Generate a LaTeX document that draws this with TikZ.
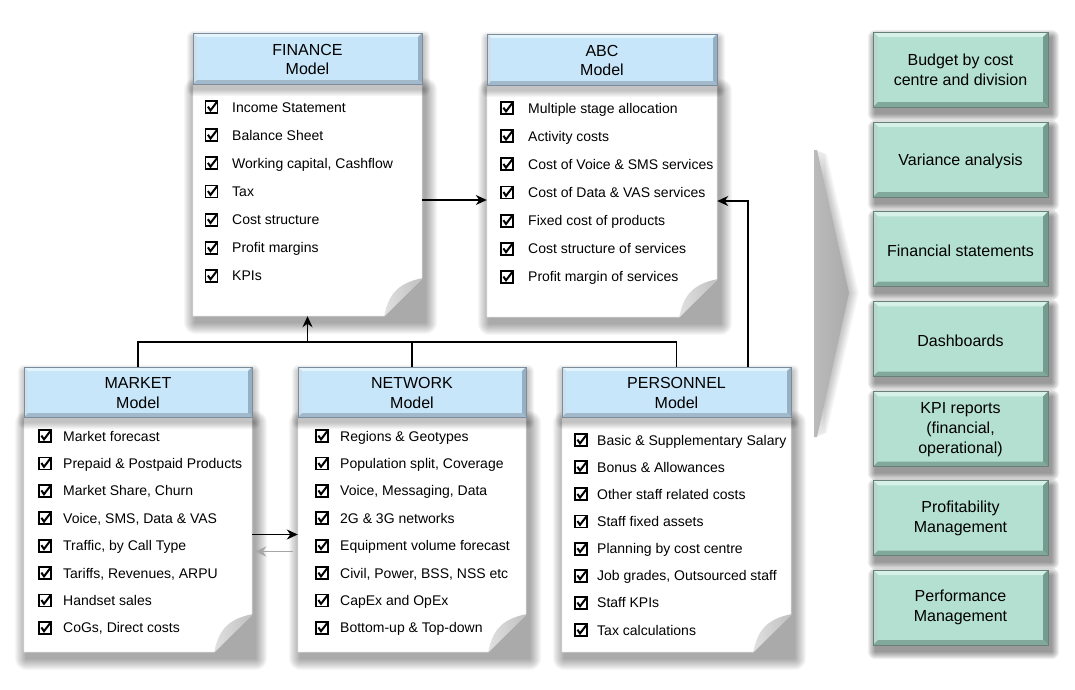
\documentclass[tikz,border=0pt]{standalone}
\usepackage{fontspec}
\setmainfont{Liberation Sans}
\usetikzlibrary{calc,arrows.meta}
\definecolor{hdrface}{RGB}{200,230,249}
\definecolor{hdrlight}{RGB}{228,244,253}
\definecolor{hdrdark}{RGB}{150,175,195}
\definecolor{hdrline}{RGB}{125,140,155}
\definecolor{outface}{RGB}{180,224,210}
\definecolor{outlight}{RGB}{214,241,232}
\definecolor{outdark}{RGB}{115,155,143}
\definecolor{outline}{RGB}{105,128,120}
\definecolor{paperline}{RGB}{210,210,210}

% soft shadow: node, dx, dy, steps, opacity per step
\newcommand\sshadow[5]{%
  \foreach \k in {1,...,#4}{%
    \fill[black, opacity=#5, rounded corners=\k pt]
      ($(#1.north west)+(#2-\k,#3-\k)$) rectangle ($(#1.south east)+(#2+\k,#3+\k)$);
  }}
% bevelled box: node, face, light, dark, inset, outline colour
\newcommand\bvl[6]{%
  \fill[#2] (#1.north west) rectangle (#1.south east);
  \fill[#3] (#1.north west) -- (#1.north east) -- ($(#1.north east)+(-#5,#5)$) -- ($(#1.north west)+(#5,#5)$) -- cycle;
  \fill[#3!70!#4] (#1.north west) -- ($(#1.north west)+(#5,#5)$) -- ($(#1.south west)+(#5,-#5)$) -- (#1.south west) -- cycle;
  \fill[#4] (#1.north east) -- (#1.south east) -- ($(#1.south east)+(-#5,-#5)$) -- ($(#1.north east)+(-#5,#5)$) -- cycle;
  \fill[#4!85!#3] (#1.south west) -- (#1.south east) -- ($(#1.south east)+(-#5,-#5)$) -- ($(#1.south west)+(#5,-#5)$) -- cycle;
  \draw[#6, line width=0.6pt] (#1.north west) rectangle (#1.south east);
}
% paper body with folded corner
\newcommand\paperpath[1]{%
  \path[paper] (#1.north west) -- (#1.north east) -- ($(#1.south east)+(0,-38)$) -- ($(#1.south east)+(-38,0)$) -- (#1.south west) -- cycle;
  \shade[left color=black!12, right color=black!25] ($(#1.south east)+(-38,0)$) .. controls ($(#1.south east)+(-34,-20)$) and ($(#1.south east)+(-26,-33)$) .. ($(#1.south east)+(0,-38)$) -- cycle;
}
\newcommand\itemlist[6]{%
  \foreach \itm [count=\i] in {#6}{%
    \node[chk] (#1c\i) at ({#2},{#4+(\i-1)*#5}) {};
    \node[item] (#1\i) at ({#3},{#4+(\i-1)*#5+5}) {\itm};
  }}

\begin{document}
\begin{tikzpicture}[x=1pt,y=-1pt,
  hdr/.style={inner sep=0, draw=none},
  outb/.style={minimum width=175pt, minimum height=75pt, inner sep=0, draw=none},
  bodyn/.style={inner sep=0, draw=none},
  paper/.style={fill=white, draw=paperline, line width=0.5pt},
  item/.style={anchor=base west, inner sep=0, font=\fontsize{14}{16}\selectfont},
  chk/.style={draw, line width=1.8pt, minimum size=12pt, inner sep=0,
    path picture={\draw[line width=2pt]
      ([xshift=-3.6pt,yshift=0.4pt]path picture bounding box.center) --
      ([xshift=-1pt,yshift=-3.4pt]path picture bounding box.center) --
      ([xshift=6.5pt,yshift=6.5pt]path picture bounding box.center);}},
  conn/.style={line width=1.5pt, -{Stealth[length=11pt,width=10pt,inset=3.5pt]}},
  bus/.style={line width=1.5pt},
  back/.style={line width=1.3pt, draw=black!35, -{Stealth[length=11pt,width=10pt,inset=3.5pt]}},
  htxt/.style={align=center, font=\fontsize{16}{19.5}\selectfont, inner sep=0},
  otxt/.style={align=center, font=\fontsize{16}{20}\selectfont, inner sep=0},
]
\useasboundingbox (0,0) rectangle (1075,689);
\fill[white] (0,0) rectangle (1075,689);

% chevron with soft shadow
\foreach \k in {1,...,10}{
  \fill[black, opacity=0.025] (814+\k,150+0.4*\k) -- (817+\k,150+0.4*\k) -- (849+\k,293) -- (817+\k,437-0.4*\k) -- (814+\k,437-0.4*\k) -- cycle;}
\path[left color=black!27, right color=black!33]
  (814,150) -- (817,150) -- (849,293) -- (817,437) -- (814,437) -- cycle;

% bodies
\node[bodyn, minimum width=229pt, minimum height=232pt] (finB) at (307.5,200) {};
\node[bodyn, minimum width=230pt, minimum height=232pt] (abcB) at (602,201) {};
\node[bodyn, minimum width=228pt, minimum height=235pt] (mktB) at (138,534.5) {};
\node[bodyn, minimum width=228pt, minimum height=235pt] (netB) at (412,534.5) {};
\node[bodyn, minimum width=229pt, minimum height=235pt] (perB) at (676.5,534.5) {};
\foreach \b in {finB,abcB,mktB,netB,perB}{\sshadow{\b}{3}{6}{12}{0.03}}
\foreach \b in {finB,abcB,mktB,netB,perB}{\paperpath{\b}}

% headers
\node[hdr, minimum width=229pt, minimum height=51pt] (finH) at (307.5,58.5) {};
\node[hdr, minimum width=230pt, minimum height=51pt] (abcH) at (602,59.5) {};
\node[hdr, minimum width=228pt, minimum height=50pt] (mktH) at (138,392) {};
\node[hdr, minimum width=228pt, minimum height=50pt] (netH) at (412,392) {};
\node[hdr, minimum width=229pt, minimum height=50pt] (perH) at (676.5,392) {};
\foreach \h in {finH,abcH,mktH,netH,perH}{\sshadow{\h}{1}{5}{7}{0.035}}
\foreach \h in {finH,abcH,mktH,netH,perH}{\bvl{\h}{hdrface}{hdrlight}{hdrdark}{4}{hdrline}}
\node[htxt] (finT) at ([yshift=-1pt]finH) {FINANCE\\Model};
\node[htxt] (abcT) at ([yshift=-1pt]abcH) {ABC\\Model};
\node[htxt] (mktT) at ([yshift=-1pt]mktH) {MARKET\\Model};
\node[htxt] (netT) at ([yshift=-1pt]netH) {NETWORK\\Model};
\node[htxt] (perT) at ([yshift=-1pt]perH) {PERSONNEL\\Model};

% items
\itemlist{fin}{211.5}{232}{107}{28.15}{Income Statement, Balance Sheet, {Working capital, Cashflow}, Tax, Cost structure, Profit margins, KPIs}
\itemlist{abc}{507}{528}{108}{28.15}{Multiple stage allocation, Activity costs, Cost of Voice \& SMS services, Cost of Data \& VAS services, Fixed cost of products, Cost structure of services, Profit margin of services}
\itemlist{mkt}{45}{63}{436}{27.4}{Market forecast, Prepaid \& Postpaid Products, {Market Share, Churn}, {Voice, SMS, Data \& VAS}, {Traffic, by Call Type}, {Tariffs, Revenues, ARPU}, Handset sales, {CoGs, Direct costs}}
\itemlist{net}{322}{340}{436}{27.4}{Regions \& Geotypes, {Population split, Coverage}, {Voice, Messaging, Data}, 2G \& 3G networks, Equipment volume forecast, {Civil, Power, BSS, NSS etc}, CapEx and OpEx, Bottom-up \& Top-down}
\itemlist{per}{581}{597}{440}{27.15}{Basic \& Supplementary Salary, Bonus \& Allowances, Other staff related costs, Staff fixed assets, Planning by cost centre, {Job grades, Outsourced staff}, Staff KPIs, Tax calculations}

% output boxes
\node[outb] (o1) at (960.5,69.5) {};
\node[outb] (o2) at (960.5,159.5) {};
\node[outb] (o3) at (960.5,249) {};
\node[outb] (o4) at (960.5,339) {};
\node[outb] (o5) at (960.5,429) {};
\node[outb] (o6) at (960.5,518) {};
\node[outb] (o7) at (960.5,607.5) {};
\foreach \o in {o1,o2,o3,o4,o5,o6,o7}{\sshadow{\o}{3}{6}{8}{0.06}}
\foreach \o in {o1,o2,o3,o4,o5,o6,o7}{\bvl{\o}{outface}{outlight}{outdark}{5}{outline}}
\node[otxt] (t1) at (o1) {Budget by cost\\centre and division};
\node[otxt] (t2) at ([yshift=-2pt]o2) {Variance analysis};
\node[otxt] (t3) at ([yshift=-2pt]o3) {Financial statements};
\node[otxt] (t4) at ([yshift=-2pt]o4) {Dashboards};
\node[otxt] (t5) at ([yshift=-1pt]o5) {KPI reports\\(financial,\\operational)};
\node[otxt] (t6) at (o6) {Profitability\\Management};
\node[otxt] (t7) at (o7) {Performance\\Management};

% connectors
\coordinate (busy) at (0,342);
\coordinate (pax) at (748,0);
\draw[conn] (finB.east) -- (finB.east -| abcB.west);
\draw[bus] (mktH.north) -- (mktH.north |- busy) -- (perH.north |- busy) -- (perH.north);
\draw[bus] (netH.north) -- (netH.north |- busy);
\draw[conn] (finB.south |- busy) -- (finB.south);
\draw[conn] (perH.north -| pax) |- (abcB.east);
\draw[conn] (mktB.east) -- (mktB.east -| netB.west);
\draw[back, shorten <=5pt, shorten >=3pt] ([yshift=-17pt]netB.west) -- ([yshift=-17pt]mktB.east);
\end{tikzpicture}
\end{document}
